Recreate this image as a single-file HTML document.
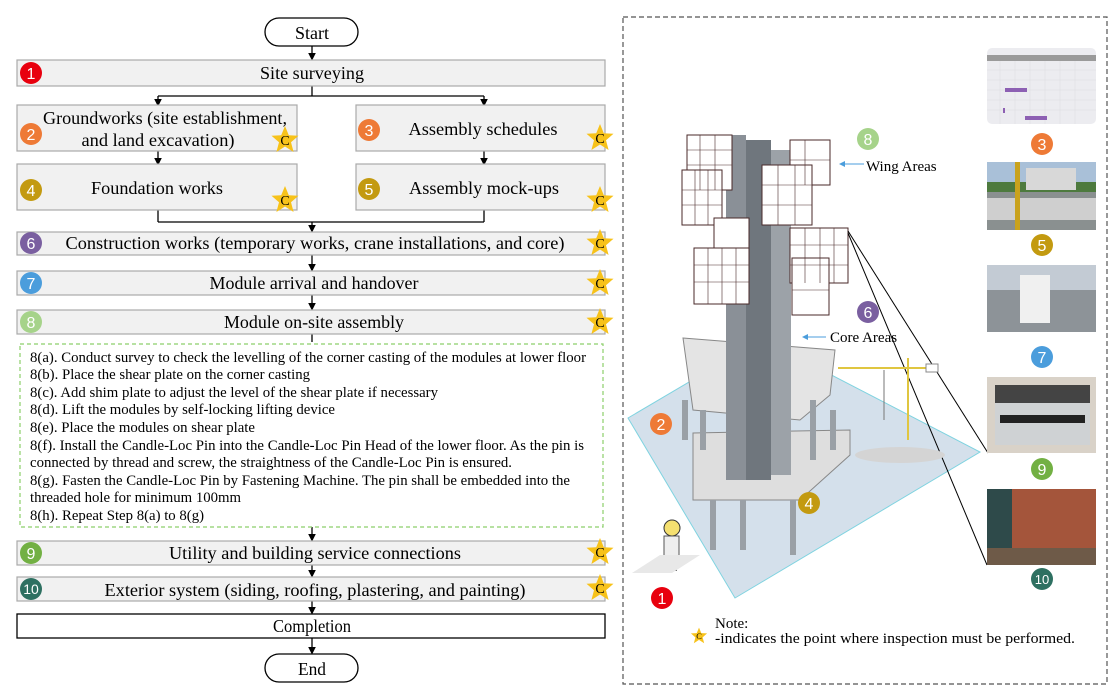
<!DOCTYPE html>
<html><head><meta charset="utf-8"><style>
html,body{margin:0;padding:0;background:#fff;}
svg{display:block;font-family:"Liberation Serif",serif;}
</style></head><body>
<svg width="1119" height="700" viewBox="0 0 1119 700" xmlns="http://www.w3.org/2000/svg">
<defs>
<marker id="ar" markerWidth="8" markerHeight="8" refX="4" refY="4" orient="auto"><path d="M0,1 L6,4 L0,7 Z" fill="#000"/></marker>
<g id="star"><polygon points="0,-14 3.8,-4.8 13.5,-4.3 6,2.2 8.6,12 0,6.5 -8.6,12 -6,2.2 -13.5,-4.3 -3.8,-4.8" fill="#f7c21a"/><text x="0" y="5" font-size="14" text-anchor="middle" fill="#000">C</text></g>
</defs>
<g stroke="#000" stroke-width="1.3" fill="none">
<rect x="265" y="18" width="93" height="28" rx="14" fill="#fff"/>
<line x1="312" y1="46" x2="312" y2="58" marker-end="url(#ar)"/>
<line x1="312" y1="86" x2="312" y2="96"/>
<line x1="158" y1="96" x2="484" y2="96"/>
<line x1="158" y1="96" x2="158" y2="104" marker-end="url(#ar)"/>
<line x1="484" y1="96" x2="484" y2="104" marker-end="url(#ar)"/>
<line x1="158" y1="151" x2="158" y2="163" marker-end="url(#ar)"/>
<line x1="484" y1="151" x2="484" y2="163" marker-end="url(#ar)"/>
<line x1="158" y1="210" x2="158" y2="222"/><line x1="484" y1="210" x2="484" y2="222"/>
<line x1="158" y1="222" x2="484" y2="222"/>
<line x1="312" y1="222" x2="312" y2="230" marker-end="url(#ar)"/>
<line x1="312" y1="255" x2="312" y2="269" marker-end="url(#ar)"/>
<line x1="312" y1="295" x2="312" y2="308" marker-end="url(#ar)"/>
<line x1="312" y1="334" x2="312" y2="342"/>
<line x1="312" y1="527" x2="312" y2="539" marker-end="url(#ar)"/>
<line x1="312" y1="565" x2="312" y2="575" marker-end="url(#ar)"/>
<line x1="312" y1="601" x2="312" y2="612" marker-end="url(#ar)"/>
<line x1="312" y1="638" x2="312" y2="652" marker-end="url(#ar)"/>
<rect x="265" y="654" width="93" height="28" rx="14" fill="#fff"/>
<rect x="17" y="614" width="588" height="24" fill="#fff"/>
</g>
<g fill="#f1f1f1" stroke="#aaa" stroke-width="1.2">
<rect x="17" y="60" width="588" height="26"/>
<rect x="17" y="105" width="280" height="46"/>
<rect x="356" y="105" width="249" height="46"/>
<rect x="17" y="164" width="280" height="46"/>
<rect x="356" y="164" width="249" height="46"/>
<rect x="17" y="232" width="588" height="23"/>
<rect x="17" y="271" width="588" height="24"/>
<rect x="17" y="310" width="588" height="24"/>
<rect x="17" y="541" width="588" height="24"/>
<rect x="17" y="577" width="588" height="24"/>
</g>
<rect x="20" y="344" width="583" height="183" fill="none" stroke="#8ccf6a" stroke-width="1.2" stroke-dasharray="4,3"/>
<g font-size="18" text-anchor="middle" fill="#000">
<text x="312" y="39" textLength="34" lengthAdjust="spacingAndGlyphs">Start</text>
<text x="312" y="79" textLength="104" lengthAdjust="spacingAndGlyphs">Site surveying</text>
<text x="165" y="124" textLength="244" lengthAdjust="spacingAndGlyphs">Groundworks (site establishment,</text>
<text x="158" y="146" textLength="153" lengthAdjust="spacingAndGlyphs">and land excavation)</text>
<text x="483" y="135" textLength="149" lengthAdjust="spacingAndGlyphs">Assembly schedules</text>
<text x="157" y="194" textLength="132" lengthAdjust="spacingAndGlyphs">Foundation works</text>
<text x="484" y="194" textLength="150" lengthAdjust="spacingAndGlyphs">Assembly mock-ups</text>
<text x="315" y="249" textLength="499" lengthAdjust="spacingAndGlyphs">Construction works (temporary works, crane installations, and core)</text>
<text x="314" y="289" textLength="209" lengthAdjust="spacingAndGlyphs">Module arrival and handover</text>
<text x="314" y="328" textLength="180" lengthAdjust="spacingAndGlyphs">Module on-site assembly</text>
<text x="315" y="559" textLength="292" lengthAdjust="spacingAndGlyphs">Utility and building service connections</text>
<text x="315" y="596" textLength="421" lengthAdjust="spacingAndGlyphs">Exterior system (siding, roofing, plastering, and painting)</text>
<text x="312" y="632" textLength="78" lengthAdjust="spacingAndGlyphs">Completion</text>
<text x="312" y="675" textLength="28" lengthAdjust="spacingAndGlyphs">End</text>
</g>
<g font-size="15" fill="#000">
<text x="30" y="362" textLength="556" lengthAdjust="spacingAndGlyphs">8(a). Conduct survey to check the levelling of the corner casting of the modules at lower floor</text>
<text x="30" y="379" textLength="280" lengthAdjust="spacingAndGlyphs">8(b). Place the shear plate on the corner casting</text>
<text x="30" y="397" textLength="408" lengthAdjust="spacingAndGlyphs">8(c). Add shim plate to adjust the level of the shear plate if necessary</text>
<text x="30" y="414" textLength="305" lengthAdjust="spacingAndGlyphs">8(d). Lift the modules by self-locking lifting device</text>
<text x="30" y="432" textLength="225" lengthAdjust="spacingAndGlyphs">8(e). Place the modules on shear plate</text>
<text x="30" y="450" textLength="554" lengthAdjust="spacingAndGlyphs">8(f). Install the Candle-Loc Pin into the Candle-Loc Pin Head of the lower floor. As the pin is</text>
<text x="30" y="467" textLength="482" lengthAdjust="spacingAndGlyphs">connected by thread and screw, the straightness of the Candle-Loc Pin is ensured.</text>
<text x="30" y="485" textLength="540" lengthAdjust="spacingAndGlyphs">8(g). Fasten the Candle-Loc Pin by Fastening Machine. The pin shall be embedded into the</text>
<text x="30" y="502" textLength="211" lengthAdjust="spacingAndGlyphs">threaded hole for minimum 100mm</text>
<text x="30" y="520" textLength="174" lengthAdjust="spacingAndGlyphs">8(h). Repeat Step 8(a) to 8(g)</text>
</g>
<g font-family="Liberation Sans,sans-serif" font-size="16" text-anchor="middle" fill="#fff">
<circle cx="31" cy="73" r="11" fill="#e8000e"/><text x="31" y="79">1</text>
<circle cx="31" cy="134" r="11" fill="#ee7a36"/><text x="31" y="140">2</text>
<circle cx="369" cy="130" r="11" fill="#ee7a36"/><text x="369" y="136">3</text>
<circle cx="31" cy="190" r="11" fill="#c39a10"/><text x="31" y="196">4</text>
<circle cx="369" cy="189" r="11" fill="#c39a10"/><text x="369" y="195">5</text>
<circle cx="31" cy="243" r="11" fill="#7a5fa0"/><text x="31" y="249">6</text>
<circle cx="31" cy="283" r="11" fill="#4b9ddc"/><text x="31" y="289">7</text>
<circle cx="31" cy="322" r="11" fill="#a6d38a"/><text x="31" y="328">8</text>
<circle cx="31" cy="553" r="11" fill="#72b043"/><text x="31" y="559">9</text>
<circle cx="31" cy="589" r="11" fill="#2e7061"/><text x="31" y="594" font-size="14">10</text>
</g>
<use href="#star" x="285" y="140"/><use href="#star" x="600" y="138"/>
<use href="#star" x="285" y="200"/><use href="#star" x="600" y="200"/>
<use href="#star" x="600" y="243"/><use href="#star" x="600" y="283"/>
<use href="#star" x="600" y="322"/><use href="#star" x="600" y="552"/>
<use href="#star" x="600" y="588"/>

<rect x="623" y="17" width="484" height="667" fill="none" stroke="#555" stroke-width="1.2" stroke-dasharray="5,3"/>
<g>
<polygon points="628,418 762,339 980,452 735,598" fill="#c9d8e6" fill-opacity="0.8" stroke="#7fd3e0" stroke-width="1"/>
<polygon points="683,338 835,350 830,395 800,420 693,410" fill="#e4e4e4" stroke="#888"/>
<polygon points="693,433 850,430 850,455 800,500 693,500" fill="#dedede" stroke="#888"/>
<g fill="#9aa0a6"><rect x="682" y="400" width="6" height="40"/><rect x="700" y="410" width="6" height="40"/><rect x="710" y="500" width="6" height="50"/><rect x="740" y="500" width="6" height="50"/><rect x="790" y="500" width="6" height="55"/><rect x="810" y="400" width="6" height="60"/><rect x="830" y="410" width="6" height="40"/></g>
<rect x="726" y="135" width="20" height="345" fill="#8a9097"/>
<rect x="746" y="140" width="25" height="340" fill="#6f767d"/>
<rect x="771" y="150" width="20" height="325" fill="#9ca2a8"/>
<g fill="#fff" stroke="#4a2a2a" stroke-width="1">
<rect x="687" y="135" width="45" height="55"/><rect x="682" y="170" width="40" height="55"/>
<rect x="790" y="140" width="40" height="45"/><rect x="762" y="165" width="50" height="60"/>
<rect x="714" y="218" width="35" height="40"/><rect x="694" y="248" width="55" height="56"/>
<rect x="790" y="228" width="58" height="55"/><rect x="792" y="258" width="37" height="57"/>
</g>
<g stroke="#4a2a2a" stroke-width="0.6">
<path d="M687,150H732M687,165H732M682,190H722M682,205H722M790,160H830M762,185H812M762,205H812M694,265H749M694,282H749M790,245H848M790,265H848M792,290H829M700,135V190M715,135V190M695,170V225M708,170V225M805,140V185M778,165V225M795,165V225M708,248V304M722,248V304M736,248V304M805,228V283M820,228V283M834,228V283"/>
</g>
<polyline points="848,231 988,453" stroke="#000" fill="none"/>
<polyline points="848,233 987,565" stroke="#000" fill="none"/>
<g stroke="#e0c640" stroke-width="2" fill="none"><line x1="838" y1="368" x2="930" y2="368"/><line x1="908" y1="358" x2="908" y2="440"/></g>
<rect x="926" y="364" width="12" height="8" fill="#fff" stroke="#888"/>
<line x1="884" y1="370" x2="884" y2="420" stroke="#777"/>
<ellipse cx="900" cy="455" rx="45" ry="8" fill="#d4d4d4"/>
<g><circle cx="672" cy="528" r="8" fill="#f5e070" stroke="#333"/><rect x="664" y="536" width="15" height="20" fill="#eee" stroke="#555"/><rect x="666" y="556" width="11" height="15" fill="#666"/><polygon points="632,573 660,555 700,555 672,573" fill="#e8e8e8"/></g>
</g>
<g font-size="15" fill="#000">
<text x="866" y="171">Wing Areas</text><line x1="841" y1="164" x2="864" y2="164" stroke="#4b9ddc"/><polygon points="839,164 845,161 845,167" fill="#4b9ddc"/>
<text x="830" y="342">Core Areas</text><line x1="804" y1="337" x2="826" y2="337" stroke="#4b9ddc"/><polygon points="802,337 808,334 808,340" fill="#4b9ddc"/>
</g>
<g>
<rect x="987" y="48" width="109" height="76" rx="5" fill="#ececf0"/><rect x="987" y="55" width="109" height="6" fill="#9a9a9a"/>
<g stroke="#dcdce0" stroke-width="0.5"><path d="M987,70H1096M987,80H1096M987,90H1096M987,100H1096M987,110H1096M1000,61V124M1015,61V124M1030,61V124M1045,61V124M1060,61V124M1075,61V124"/></g>
<g fill="#8d60b3"><rect x="1005" y="88" width="22" height="4"/><rect x="1025" y="116" width="22" height="4"/><rect x="1003" y="108" width="2" height="5"/></g>
<rect x="987" y="162" width="109" height="68" fill="#8a9090"/><rect x="987" y="162" width="109" height="22" fill="#a9c0d8"/><rect x="987" y="182" width="109" height="10" fill="#4d7a3e"/><rect x="1026" y="168" width="50" height="22" fill="#d8d8d8"/><rect x="987" y="198" width="109" height="22" fill="#cfcfcf"/><rect x="1015" y="162" width="5" height="68" fill="#c9a21d"/>
<rect x="987" y="265" width="109" height="67" fill="#8d9398"/><rect x="987" y="265" width="109" height="25" fill="#c3cbd4"/><rect x="1020" y="275" width="30" height="48" fill="#f0f0f0"/>
<rect x="987" y="377" width="109" height="76" fill="#d9d2c8"/><rect x="995" y="385" width="95" height="60" fill="#cfd2d4"/><rect x="995" y="385" width="95" height="18" fill="#444"/><rect x="1000" y="415" width="85" height="8" fill="#222"/>
<rect x="987" y="489" width="109" height="76" fill="#a4553b"/><rect x="987" y="489" width="25" height="60" fill="#2e4a4a"/><rect x="987" y="548" width="109" height="17" fill="#6e5a48"/>
</g>
<g font-family="Liberation Sans,sans-serif" font-size="16" text-anchor="middle" fill="#fff">
<circle cx="868" cy="139" r="11" fill="#a6d38a"/><text x="868" y="145">8</text>
<circle cx="868" cy="312" r="11" fill="#7a5fa0"/><text x="868" y="318">6</text>
<circle cx="661" cy="424" r="11" fill="#ee7a36"/><text x="661" y="430">2</text>
<circle cx="809" cy="503" r="11" fill="#c39a10"/><text x="809" y="509">4</text>
<circle cx="662" cy="598" r="11" fill="#e8000e"/><text x="662" y="604">1</text>
<circle cx="1042" cy="144" r="11" fill="#ee7a36"/><text x="1042" y="150">3</text>
<circle cx="1042" cy="245" r="11" fill="#c39a10"/><text x="1042" y="251">5</text>
<circle cx="1042" cy="357" r="11" fill="#4b9ddc"/><text x="1042" y="363">7</text>
<circle cx="1042" cy="469" r="11" fill="#72b043"/><text x="1042" y="475">9</text>
<circle cx="1042" cy="579" r="11" fill="#2e7061"/><text x="1042" y="584" font-size="13">10</text>
</g>
<g font-size="15" fill="#000">
<text x="715" y="628">Note:</text>
<text x="715" y="643" textLength="360" lengthAdjust="spacingAndGlyphs">-indicates the point where inspection must be performed.</text>
<g transform="translate(699,636) scale(0.6)"><use href="#star"/></g>
</g>
</svg>
</body></html>
